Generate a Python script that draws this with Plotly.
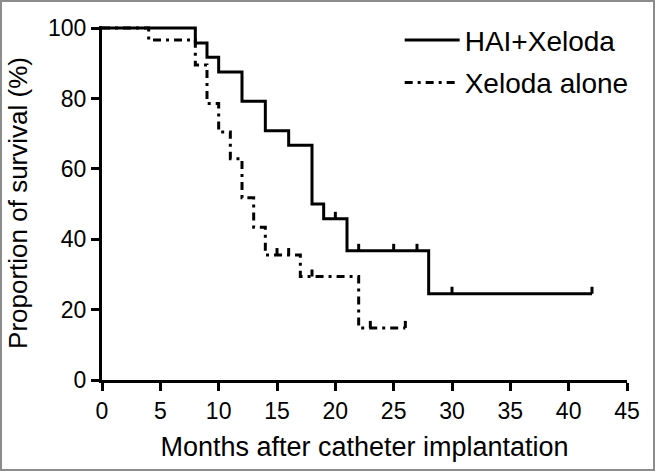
import plotly.graph_objects as go

# --- data ---
hai_time = [0, 8, 9, 10, 12, 14, 16, 18, 19, 21, 28, 42]
hai_surv = [100, 95.8, 91.7, 87.5, 79.2, 70.8, 66.7, 50.0, 45.8, 36.7, 24.5, 24.5]
hai_cens_time = [20, 22, 25, 27, 30, 42]
hai_cens_surv = [45.8, 36.7, 36.7, 36.7, 24.5, 24.5]

xel_time = [0, 4, 8, 9, 10, 11, 12, 13, 14, 17, 22, 26]
xel_surv = [100, 96.6, 89.5, 78.6, 70.5, 62.9, 51.8, 43.4, 35.5, 29.4, 14.8, 14.8]
xel_cens_time = [15, 16, 18, 23, 26]
xel_cens_surv = [35.5, 35.5, 29.4, 14.8, 14.8]

x_ticks = list(range(0, 50, 5))
y_ticks = list(range(0, 120, 20))

W, H = 655, 471
ML, MR, MT, MB = 102, 28, 26, 91
FONT = "Liberation Sans, Arial, sans-serif"
tick_up = 2.0  # censor tick height in % units

fig = go.Figure()

fig.add_trace(go.Scatter(
    x=hai_time, y=hai_surv, mode="lines", line_shape="hv",
    line=dict(color="black", width=3), name="HAI+Xeloda", legendgroup="a",
))
fig.add_trace(go.Scatter(
    x=xel_time, y=xel_surv, mode="lines", line_shape="hv",
    line=dict(color="black", width=3, dash="8px,5px,3px,5px"), name="Xeloda alone",
    legendgroup="b",
))

# censor marks: short upward ticks
for t, s in [(hai_cens_time, hai_cens_surv), (xel_cens_time, xel_cens_surv)]:
    fig.add_trace(go.Scatter(
        x=t, y=s, mode="markers", marker=dict(size=1, color="black", opacity=0),
        error_y=dict(type="data", array=[tick_up] * len(s), arrayminus=[0] * len(s),
                     symmetric=False, width=0, thickness=3, color="black"),
        showlegend=False, hoverinfo="skip",
    ))

# grey frame round the picture
pw = W - ML - MR
ph = H - MT - MB
fig.add_shape(type="rect", xref="paper", yref="paper",
              x0=(1 - ML) / pw, x1=(W - ML - 1) / pw,
              y0=-(MB - 1) / ph, y1=(ph + MT - 1) / ph,
              line=dict(color="#8c8c8c", width=2), layer="below")

fig.update_layout(
    width=W, height=H,
    margin=dict(l=ML, r=MR, t=MT, b=MB, autoexpand=False),
    paper_bgcolor="white", plot_bgcolor="white",
    font=dict(family=FONT, color="black"),
    showlegend=True,
    legend=dict(x=0.567, y=1.03, xanchor="left", yanchor="top",
                font=dict(size=28), bgcolor="rgba(0,0,0,0)",
                itemwidth=55, tracegroupgap=3),
    xaxis=dict(range=[0, 45], tickvals=x_ticks, showline=True, linecolor="black",
               linewidth=3, ticks="outside", ticklen=8, tickwidth=3, tickcolor="black",
               showgrid=False, zeroline=False, tickfont=dict(size=23), automargin=False,
               title=dict(text="Months after catheter implantation", font=dict(size=27),
                          standoff=15)),
    yaxis=dict(range=[0, 100.6], tickvals=y_ticks, showline=True, linecolor="black",
               linewidth=3, ticks="outside", ticklen=8, tickwidth=3, tickcolor="black",
               showgrid=False, zeroline=False, tickfont=dict(size=23), automargin=False,
               title=dict(text="Proportion of survival (%)", font=dict(size=26),
                          standoff=13)),
)

fig.write_html("out.html", config={"displayModeBar": False},
               post_script="document.body.style.margin='0px';")
